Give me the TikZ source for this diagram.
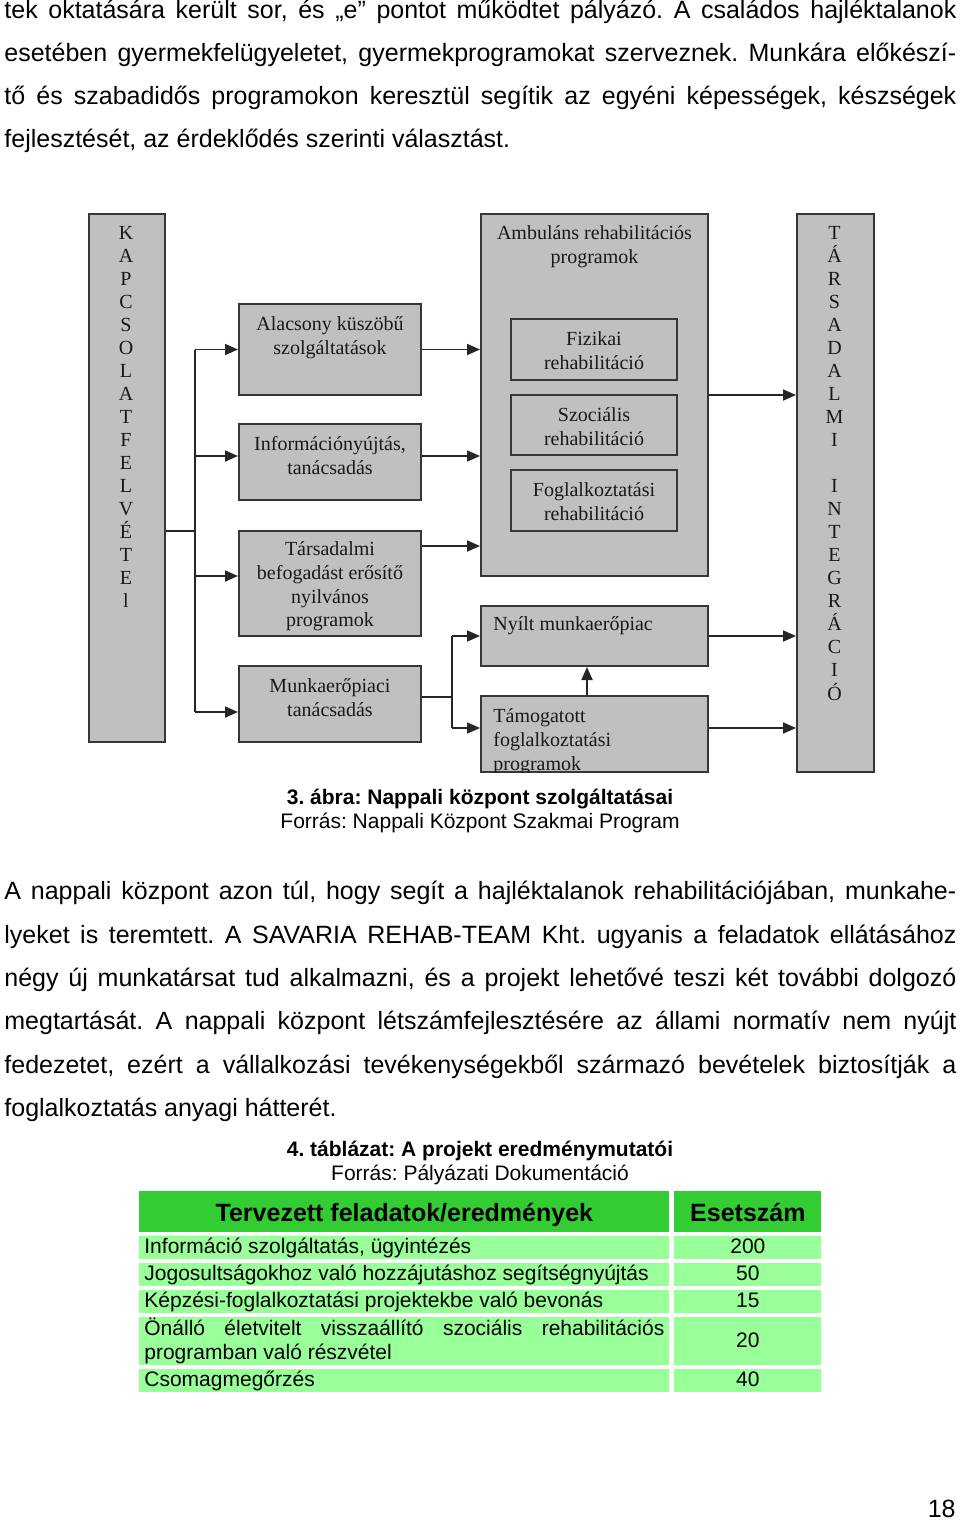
\documentclass[tikz,border=0pt]{standalone}
\usepackage{fontspec}
\setmainfont{Liberation Sans}
\newfontfamily\diafont{Liberation Serif}
\usetikzlibrary{arrows.meta,positioning}
\frenchspacing
\definecolor{boxgray}{RGB}{192,192,192}
\definecolor{boxline}{RGB}{55,55,55}
\definecolor{headgreen}{RGB}{51,204,51}
\definecolor{rowgreen}{RGB}{153,255,153}
\tikzset{
    gray-box/.style = {draw=boxline, fill=boxgray, line width=1pt, rectangle, inner sep=0pt, anchor=north west},
    box-text/.style = {font=\diafont\fontsize{10}{11.85}\selectfont, align=center, inner sep=0pt, text=black!90},
    letter/.style = {font=\diafont\fontsize{10}{12}\selectfont, inner sep=0pt, anchor=base, text=black!90},
    flow/.style = {draw=black!85, line width=0.9pt, -{Triangle[length=6.5pt,width=5.5pt]}},
    link/.style = {draw=black!85, line width=0.9pt},
    body-line/.style = {anchor=base west, inner sep=0pt, font=\fontsize{12.5}{15}\selectfont},
    caption-title/.style = {anchor=base, inner sep=0pt, font=\bfseries\fontsize{10.5}{12}\selectfont},
    caption-line/.style = {anchor=base, inner sep=0pt, font=\fontsize{10.5}{12}\selectfont},
    table-cell/.style = {rectangle, inner sep=0pt, anchor=north west},
    head-text/.style = {anchor=base, inner sep=0pt, font=\bfseries\fontsize{12.5}{14}\selectfont},
    cell-text/.style = {anchor=base west, inner sep=0pt, font=\fontsize{10.5}{12}\selectfont},
    num-text/.style = {anchor=base, inner sep=0pt, font=\fontsize{10.5}{12}\selectfont},
}

\begin{document}
\begin{tikzpicture}[x=0.5pt, y=-0.5pt]
\fill[white] (0,0) rectangle (960,1521);
\useasboundingbox (0,0) rectangle (960,1521);

% text above the figure
\node[body-line] (par1-a) at (4,18.5) {\makebox[476pt][s]{tek oktatására került sor, és „e” pontot működtet pályázó. A családos hajléktalanok}};
\node[body-line] (par1-b) at (4,61.5) {\makebox[476pt][s]{esetében gyermekfelügyeletet, gyermekprogramokat szerveznek. Munkára előkészí-}};
\node[body-line] (par1-c) at (4,104.5) {\makebox[476pt][s]{tő és szabadidős programokon keresztül segítik az egyéni képességek, készségek}};
\node[body-line] (par1-d) at (4,147.5) {fejlesztését, az érdeklődés szerinti választást.};

% figure boxes
\node[gray-box, minimum width=38pt, minimum height=264pt] (kapcs) at (88,213) {};
\node[gray-box, minimum width=91pt, minimum height=45.5pt] (alacsony) at (238,303) {};
\node[gray-box, minimum width=91pt, minimum height=38pt] (info) at (238,423) {};
\node[gray-box, minimum width=91pt, minimum height=52.5pt] (tarsadalmi) at (238,530) {};
\node[gray-box, minimum width=91pt, minimum height=38pt] (munkaero) at (238,665) {};
\node[gray-box, minimum width=113.5pt, minimum height=181pt] (ambulans) at (480,213) {};
\node[gray-box, minimum width=83pt, minimum height=30.5pt] (fizikai) at (510,318) {};
\node[gray-box, minimum width=83pt, minimum height=30pt] (szocialis) at (510,394) {};
\node[gray-box, minimum width=83pt, minimum height=30.5pt] (foglalk) at (510,469) {};
\node[gray-box, minimum width=113.5pt, minimum height=30pt] (nyilt) at (480,605) {};
\node[gray-box, minimum width=113.5pt, minimum height=38pt] (tamogatott) at (480,695) {};
\node[gray-box, minimum width=38.5pt, minimum height=279pt] (tarsint) at (796,213) {};

\foreach \ch [count=\i from 0] in {K,A,P,C,S,O,L,A,T,F,E,L,V,É,T,E,l}
    \node[letter] (kl-\i) at (126,{239+23.05*\i}) {\ch};
\foreach \ch [count=\i from 0] in {T,Á,R,S,A,D,A,L,M,I,{},I,N,T,E,G,R,Á,C,I,Ó}
    \node[letter] (tl-\i) at (834.5,{239+23.05*\i}) {\ch};

\node[box-text, below=6.75pt] (alacsony-t) at (alacsony.north) {Alacsony küszöbű\\szolgáltatások};
\node[box-text, below=6.75pt] (info-t) at (info.north) {Információnyújtás,\\tanácsadás};
\node[box-text, below=5.75pt] (tarsadalmi-t) at (tarsadalmi.north) {Társadalmi\\befogadást erősítő\\nyilvános\\programok};
\node[box-text, below=6.75pt] (munkaero-t) at (munkaero.north) {Munkaerőpiaci\\tanácsadás};
\node[box-text, below=6.25pt] (ambulans-t) at (ambulans.north) {Ambuláns rehabilitációs\\programok};
\node[box-text, below=6.75pt] (fizikai-t) at (fizikai.north) {Fizikai\\rehabilitáció};
\node[box-text, below=6.75pt] (szocialis-t) at (szocialis.north) {Szociális\\rehabilitáció};
\node[box-text, below=6.75pt] (foglalk-t) at (foglalk.north) {Foglalkoztatási\\rehabilitáció};
\node[box-text, align=left, below right=5.5pt and 6.5pt] (nyilt-t) at (nyilt.north west) {Nyílt munkaerőpiac};
\begin{scope}
\clip ([xshift=0.5pt,yshift=-0.5pt]tamogatott.north west) rectangle ([xshift=-0.5pt,yshift=0.5pt]tamogatott.south east);
\node[box-text, align=left, below right=6.75pt and 6.5pt] (tamogatott-t) at (tamogatott.north west) {Támogatott\\foglalkoztatási\\programok};
\end{scope}

% connectors
\coordinate (bus) at ([xshift=14.5pt,yshift=-26.5pt]kapcs.east);
\coordinate (info-in) at ([yshift=3pt]info.west);
\coordinate (tars-in) at ([yshift=3.75pt]tarsadalmi.west);
\coordinate (munka-in) at ([yshift=-4pt]munkaero.west);
\draw[link] ([yshift=-26.5pt]kapcs.east) -- (bus);
\draw[link] (bus |- alacsony.west) -- (bus |- munka-in);
\draw[flow] (bus |- alacsony.west) -- (alacsony.west);
\draw[flow] (bus |- info-in) -- (info-in);
\draw[flow] (bus |- tars-in) -- (tars-in);
\draw[flow] (bus |- munka-in) -- (munka-in);

\coordinate (info-out) at ([yshift=3pt]info.east);
\coordinate (tars-out) at ([yshift=18.75pt]tarsadalmi.east);
\draw[flow] (alacsony.east) -- (alacsony.east -| ambulans.west);
\draw[flow] (info-out) -- (info-out -| ambulans.west);
\draw[flow] (tars-out) -- (tars-out -| ambulans.west);
\draw[flow] (ambulans.east) -- (ambulans.east -| tarsint.west);

\coordinate (munka-out) at ([yshift=3.5pt]munkaero.east);
\coordinate (fork) at ([xshift=15pt]munka-out);
\coordinate (tam-in) at ([yshift=3pt]tamogatott.west);
\draw[link] (munka-out) -- (fork);
\draw[link] (fork |- nyilt.west) -- (fork |- tam-in);
\draw[flow] (fork |- nyilt.west) -- (nyilt.west);
\draw[flow] (fork |- tam-in) -- (tam-in);
\draw[flow] (nyilt.east) -- (nyilt.east -| tarsint.west);
\draw[flow] (tam-in -| tamogatott.east) -- (tam-in -| tarsint.west);
\draw[flow] ([xshift=-3.75pt]tamogatott.north) -- ([xshift=-3.75pt]nyilt.south);

% figure caption
\node[caption-title] (fig-cap) at (480,804.5) {3. ábra: Nappali központ szolgáltatásai};
\node[caption-line] (fig-src) at (480,828.5) {Forrás: Nappali Központ Szakmai Program};

% text below the figure
\node[body-line] (par2-a) at (4,899.5) {\makebox[476pt][s]{A nappali központ azon túl, hogy segít a hajléktalanok rehabilitációjában, munkahe-}};
\node[body-line] (par2-b) at (4,943) {\makebox[476pt][s]{lyeket is teremtett. A SAVARIA REHAB-TEAM Kht. ugyanis a feladatok ellátásához}};
\node[body-line] (par2-c) at (4,986) {\makebox[476pt][s]{négy új munkatársat tud alkalmazni, és a projekt lehetővé teszi két további dolgozó}};
\node[body-line] (par2-d) at (4,1029.5) {\makebox[476pt][s]{megtartását. A nappali központ létszámfejlesztésére az állami normatív nem nyújt}};
\node[body-line] (par2-e) at (4,1073) {\makebox[476pt][s]{fedezetet, ezért a vállalkozási tevékenységekből származó bevételek biztosítják a}};
\node[body-line] (par2-f) at (4,1116.5) {foglalkoztatás anyagi hátterét.};

% table caption
\node[caption-title] (tab-cap) at (480,1156.5) {4. táblázat: A projekt eredménymutatói};
\node[caption-line] (tab-src) at (480,1180.5) {Forrás: Pályázati Dokumentáció};

% table
\node[table-cell, fill=headgreen, minimum width=265pt, minimum height=20.5pt] (head-task) at (139,1191) {};
\node[table-cell, fill=headgreen, minimum width=73.5pt, minimum height=20.5pt] (head-num) at (674,1191) {};
\node[head-text] (head-task-t) at ([yshift=5.5pt]head-task.south) {Tervezett feladatok/eredmények};
\node[head-text] (head-num-t) at ([yshift=5.5pt]head-num.south) {Esetszám};

\foreach \y/\h/\name in {1236/11.5/r1, 1263/11.5/r2, 1290/11.5/r3, 1317/24/r4, 1369/11.5/r5} {
    \node[table-cell, fill=rowgreen, minimum width=265pt, minimum height=\h pt] (\name-task) at (139,\y) {};
    \node[table-cell, fill=rowgreen, minimum width=73.5pt, minimum height=\h pt] (\name-num) at (674,\y) {};
}
\node[cell-text] (r1-t) at ([xshift=2.5pt,yshift=3pt]r1-task.south west) {Információ szolgáltatás, ügyintézés};
\node[cell-text] (r2-t) at ([xshift=2.5pt,yshift=3pt]r2-task.south west) {Jogosultságokhoz való hozzájutáshoz segítségnyújtás};
\node[cell-text] (r3-t) at ([xshift=2.5pt,yshift=3pt]r3-task.south west) {Képzési-foglalkoztatási projektekbe való bevonás};
\node[cell-text] (r4-t1) at ([xshift=2.5pt,yshift=15pt]r4-task.south west) {\makebox[260pt][s]{Önálló életvitelt visszaállító szociális rehabilitációs}};
\node[cell-text] (r4-t2) at ([xshift=2.5pt,yshift=3pt]r4-task.south west) {programban való részvétel};
\node[cell-text] (r5-t) at ([xshift=2.5pt,yshift=3pt]r5-task.south west) {Csomagmegőrzés};
\node[num-text] (r1-n) at ([yshift=3pt]r1-num.south) {200};
\node[num-text] (r2-n) at ([yshift=3pt]r2-num.south) {50};
\node[num-text] (r3-n) at ([yshift=3pt]r3-num.south) {15};
\node[num-text] (r4-n) at ([yshift=9pt]r4-num.south) {20};
\node[num-text] (r5-n) at ([yshift=3pt]r5-num.south) {40};

% page number
\node[body-line, anchor=base east] (page-num) at (956,1517) {18};
\end{tikzpicture}
\end{document}
